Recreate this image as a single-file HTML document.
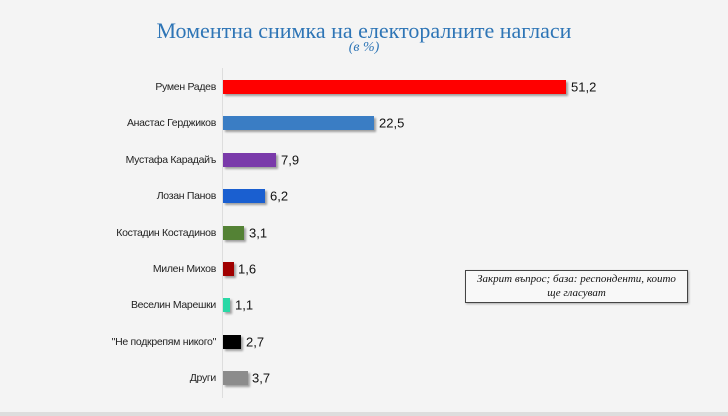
<!DOCTYPE html>
<html><head><meta charset="utf-8"><style>
body{margin:0;width:728px;height:416px;background:#f4f4f4;font-family:"Liberation Sans","DejaVu Sans",sans-serif;position:relative;overflow:hidden}
.t{position:absolute;left:0;width:728px;text-align:center;color:#2e75b6;font-family:"Liberation Serif","DejaVu Serif",serif}
.l{position:absolute;right:512px;font-size:10.5px;letter-spacing:-0.3px;color:#222;white-space:nowrap;transform:translateY(-50%)}
.b{position:absolute;left:223px;height:14px;box-shadow:2px 2px 2px rgba(0,0,0,0.35);transform:translateY(-50%)}
.v{position:absolute;font-size:13px;color:#111;transform:translateY(-50%)}
</style></head><body>
<div class="t" style="top:18px;font-size:22px">Моментна снимка на електоралните нагласи</div>
<div class="t" style="top:40px;font-size:14px;font-style:italic">(в %)</div>
<div style="position:absolute;left:222px;top:68px;width:1px;height:330px;background:#ddd"></div>
<div class="l" style="top:87px">Румен Радев</div><div class="b" style="top:87px;width:343px;background:#ff0000"></div><div class="v" style="top:87px;left:571px">51,2</div>
<div class="l" style="top:123px">Анастас Герджиков</div><div class="b" style="top:123px;width:151px;background:#3a7dc4"></div><div class="v" style="top:123px;left:379px">22,5</div>
<div class="l" style="top:160px">Мустафа Карадайъ</div><div class="b" style="top:160px;width:53px;background:#7a3aaa"></div><div class="v" style="top:160px;left:281px">7,9</div>
<div class="l" style="top:196px">Лозан Панов</div><div class="b" style="top:196px;width:42px;background:#1a5fd0"></div><div class="v" style="top:196px;left:270px">6,2</div>
<div class="l" style="top:233px">Костадин Костадинов</div><div class="b" style="top:233px;width:21px;background:#548235"></div><div class="v" style="top:233px;left:249px">3,1</div>
<div class="l" style="top:269px">Милен Михов</div><div class="b" style="top:269px;width:11px;background:#a00000"></div><div class="v" style="top:269px;left:238px">1,6</div>
<div class="l" style="top:305px">Веселин Марешки</div><div class="b" style="top:305px;width:7px;background:#2ad8a6"></div><div class="v" style="top:305px;left:235px">1,1</div>
<div class="l" style="top:342px">"Не подкрепям никого"</div><div class="b" style="top:342px;width:18px;background:#000"></div><div class="v" style="top:342px;left:246px">2,7</div>
<div class="l" style="top:378px">Други</div><div class="b" style="top:378px;width:25px;background:#8c8c8c"></div><div class="v" style="top:378px;left:252px">3,7</div>
<div style="position:absolute;left:465px;top:270px;width:221px;height:30px;border:1px solid #444;background:#f8f8f8;box-shadow:1px 1px 2px rgba(0,0,0,0.3);font-family:'Liberation Serif',serif;font-style:italic;font-size:11px;text-align:center;line-height:14px;padding-top:1px;color:#111">Закрит въпрос; база: респонденти, които<br>ще гласуват</div>
<div style="position:absolute;left:0;top:412px;width:728px;height:4px;background:#ddd"></div>
</body></html>
